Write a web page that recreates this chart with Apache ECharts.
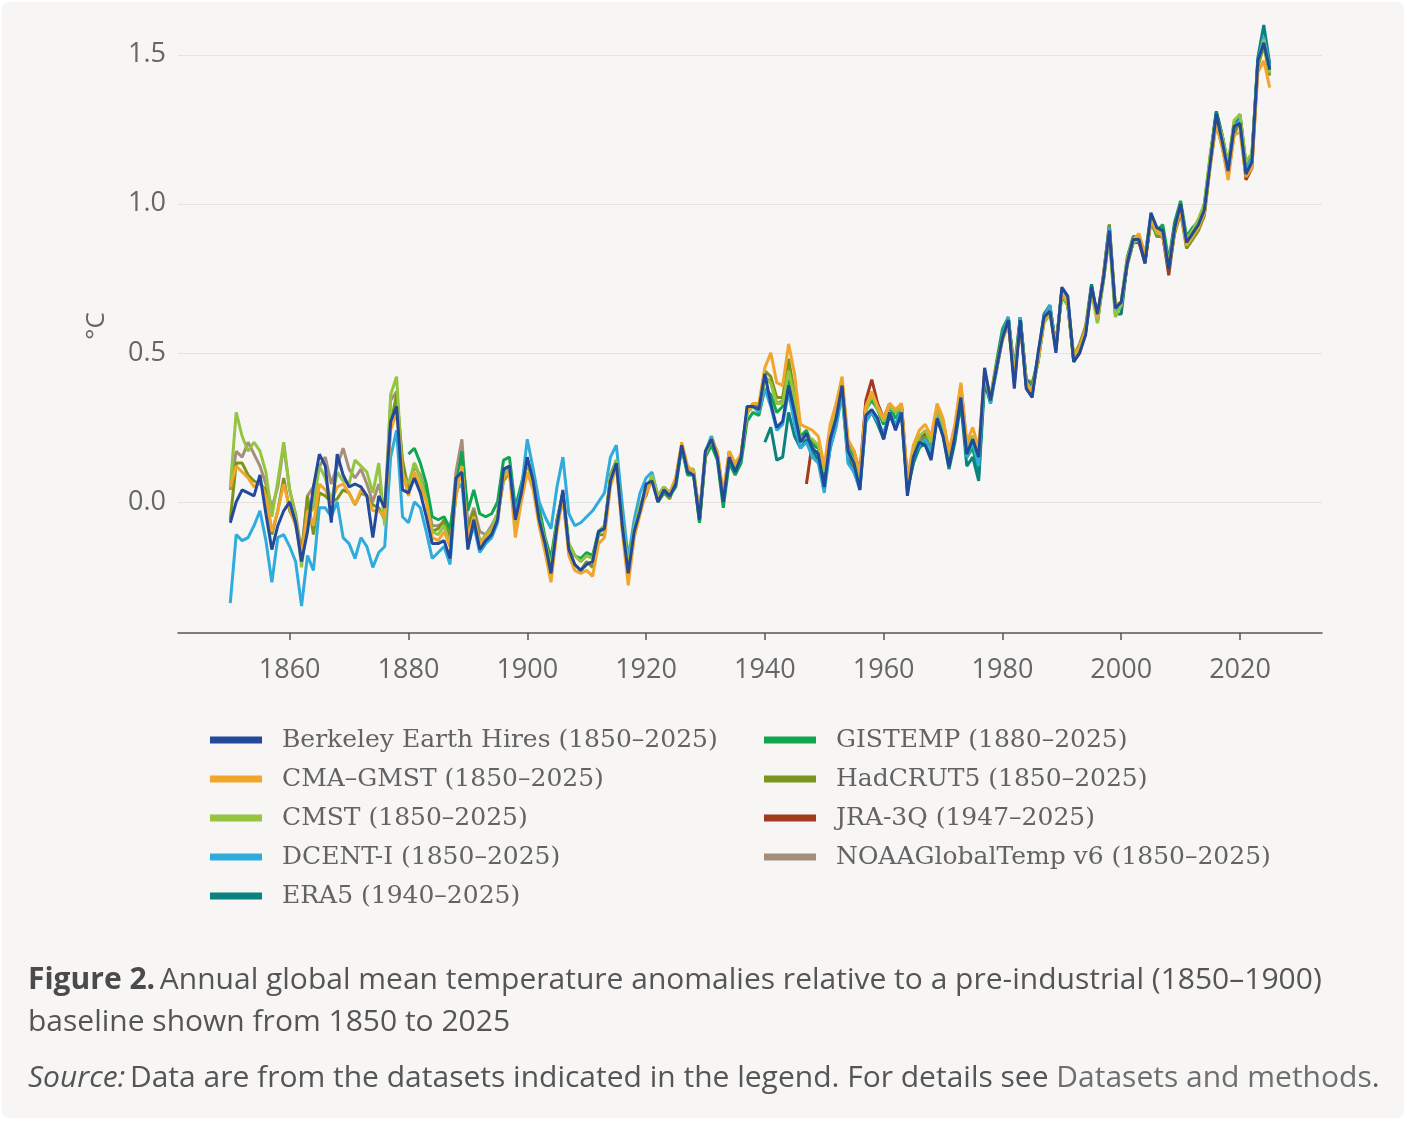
<!DOCTYPE html>
<html>
<head>
<meta charset="utf-8">
<title>Annual global mean temperature anomalies</title>
<script src="https://cdn.jsdelivr.net/npm/echarts@6/dist/echarts.min.js"></script>
<style>
    html, body { margin: 0; padding: 0; background: #fff; }
    #chart {
        position: absolute; left: 3px; top: 3px;
        width: 1400px; height: 1114px;
        background: #f7f6f4; border-radius: 6px;
        box-shadow: 0 0 2px rgba(0, 0, 0, 0.12);
    }
</style>
</head>
<body>
<div id="chart"></div>
<script>
    // anomalies in °C relative to 1850-1900, one value per year from the start year
    var berkeley = [
        -0.07, 0.00, 0.04, 0.03, 0.02, 0.09, -0.04, -0.16, -0.08, -0.03,
        0.00, -0.07, -0.20, -0.10, 0.05, 0.16, 0.12, -0.07, 0.16, 0.09,
        0.05, 0.06, 0.05, 0.02, -0.12, 0.02, -0.02, 0.27, 0.32, 0.04,
        0.03, 0.08, 0.03, -0.05, -0.14, -0.14, -0.13, -0.19, 0.08, 0.10,
        -0.16, -0.06, -0.16, -0.13, -0.11, -0.06, 0.11, 0.12, -0.06, 0.03,
        0.15, 0.07, -0.06, -0.14, -0.24, -0.08, 0.04, -0.16, -0.21, -0.23,
        -0.21, -0.20, -0.10, -0.09, 0.07, 0.13, -0.08, -0.24, -0.10, -0.03,
        0.06, 0.07, 0.00, 0.04, 0.02, 0.06, 0.19, 0.10, 0.09, -0.06,
        0.17, 0.21, 0.15, 0.00, 0.15, 0.10, 0.15, 0.32, 0.32, 0.31,
        0.43, 0.33, 0.25, 0.27, 0.39, 0.30, 0.20, 0.23, 0.18, 0.16,
        0.05, 0.21, 0.28, 0.39, 0.17, 0.13, 0.04, 0.29, 0.31, 0.28,
        0.21, 0.30, 0.24, 0.30, 0.02, 0.15, 0.20, 0.19, 0.14, 0.28,
        0.22, 0.12, 0.22, 0.35, 0.16, 0.21, 0.15, 0.45, 0.34, 0.45,
        0.55, 0.61, 0.38, 0.61, 0.38, 0.35, 0.50, 0.62, 0.64, 0.50,
        0.72, 0.69, 0.47, 0.50, 0.56, 0.72, 0.63, 0.75, 0.91, 0.65,
        0.67, 0.80, 0.88, 0.88, 0.80, 0.97, 0.92, 0.91, 0.78, 0.92,
        1.00, 0.87, 0.90, 0.93, 0.98, 1.14, 1.30, 1.21, 1.11, 1.26,
        1.27, 1.10, 1.14, 1.48, 1.54, 1.45
    ];
    var cmaGmst = [
        0.05, 0.12, 0.10, 0.08, 0.05, 0.07, 0.02, -0.10, -0.03, 0.06,
        -0.02, -0.08, -0.18, -0.03, -0.08, 0.06, 0.04, 0.00, 0.05, 0.06,
        0.03, -0.01, 0.04, 0.02, -0.03, -0.03, -0.05, 0.24, 0.30, 0.10,
        0.02, 0.10, 0.05, 0.00, -0.12, -0.13, -0.10, -0.15, 0.02, 0.12,
        -0.12, -0.05, -0.14, -0.12, -0.10, -0.06, 0.08, 0.10, -0.12, 0.00,
        0.10, 0.04, -0.08, -0.17, -0.27, -0.10, 0.02, -0.18, -0.23, -0.24,
        -0.23, -0.25, -0.14, -0.12, 0.05, 0.12, -0.10, -0.28, -0.12, -0.04,
        0.03, 0.07, 0.01, 0.04, 0.03, 0.08, 0.20, 0.12, 0.10, -0.04,
        0.17, 0.21, 0.17, 0.03, 0.17, 0.13, 0.16, 0.30, 0.33, 0.33,
        0.45, 0.50, 0.40, 0.39, 0.53, 0.43, 0.26, 0.25, 0.24, 0.22,
        0.12, 0.26, 0.33, 0.42, 0.21, 0.17, 0.10, 0.32, 0.37, 0.32,
        0.28, 0.33, 0.31, 0.33, 0.08, 0.19, 0.24, 0.26, 0.22, 0.33,
        0.28, 0.17, 0.26, 0.40, 0.20, 0.25, 0.18, 0.44, 0.35, 0.46,
        0.55, 0.59, 0.42, 0.59, 0.40, 0.37, 0.48, 0.61, 0.64, 0.52,
        0.70, 0.67, 0.49, 0.52, 0.58, 0.71, 0.62, 0.76, 0.90, 0.66,
        0.67, 0.81, 0.88, 0.90, 0.83, 0.94, 0.91, 0.89, 0.79, 0.91,
        0.98, 0.86, 0.89, 0.92, 0.97, 1.13, 1.27, 1.19, 1.08, 1.23,
        1.24, 1.09, 1.12, 1.44, 1.48, 1.39
    ];
    var cmst = [
        0.05, 0.30, 0.22, 0.17, 0.20, 0.17, 0.10, -0.05, 0.07, 0.20,
        0.04, -0.05, -0.22, -0.05, -0.02, 0.12, 0.08, 0.00, 0.10, 0.07,
        0.06, 0.14, 0.12, 0.10, 0.03, 0.13, -0.08, 0.36, 0.42, 0.09,
        0.06, 0.13, 0.08, 0.01, -0.10, -0.11, -0.08, -0.15, 0.02, 0.12,
        -0.13, -0.05, -0.14, -0.11, -0.09, -0.04, 0.09, 0.11, -0.09, 0.02,
        0.14, 0.07, -0.05, -0.13, -0.22, -0.07, 0.03, -0.14, -0.18, -0.20,
        -0.18, -0.19, -0.11, -0.08, 0.08, 0.14, -0.07, -0.21, -0.09, -0.01,
        0.04, 0.09, 0.02, 0.05, 0.03, 0.08, 0.19, 0.11, 0.11, -0.05,
        0.16, 0.21, 0.16, 0.02, 0.16, 0.12, 0.16, 0.30, 0.32, 0.31,
        0.41, 0.40, 0.33, 0.33, 0.44, 0.35, 0.21, 0.22, 0.21, 0.19,
        0.10, 0.23, 0.30, 0.37, 0.17, 0.14, 0.08, 0.30, 0.36, 0.31,
        0.27, 0.32, 0.30, 0.32, 0.06, 0.17, 0.22, 0.24, 0.20, 0.31,
        0.26, 0.15, 0.24, 0.38, 0.18, 0.22, 0.16, 0.43, 0.34, 0.45,
        0.54, 0.60, 0.43, 0.60, 0.40, 0.37, 0.47, 0.60, 0.63, 0.52,
        0.70, 0.66, 0.48, 0.52, 0.57, 0.70, 0.60, 0.74, 0.89, 0.62,
        0.66, 0.80, 0.87, 0.88, 0.82, 0.95, 0.90, 0.90, 0.80, 0.92,
        1.00, 0.88, 0.91, 0.95, 1.00, 1.17, 1.29, 1.23, 1.13, 1.28,
        1.30, 1.14, 1.17, 1.47, 1.55, 1.44
    ];
    var dcent = [
        -0.34, -0.11, -0.13, -0.12, -0.08, -0.03, -0.13, -0.27, -0.12, -0.11,
        -0.15, -0.20, -0.35, -0.18, -0.23, -0.02, -0.02, -0.05, 0.00, -0.12,
        -0.14, -0.19, -0.12, -0.15, -0.22, -0.17, -0.15, 0.15, 0.24, -0.05,
        -0.07, 0.00, -0.02, -0.10, -0.19, -0.17, -0.15, -0.21, 0.04, 0.06,
        -0.15, -0.08, -0.17, -0.14, -0.12, -0.07, 0.10, 0.12, -0.04, 0.04,
        0.21, 0.11, 0.00, -0.05, -0.09, 0.05, 0.15, -0.04, -0.08, -0.07,
        -0.05, -0.03, 0.00, 0.03, 0.15, 0.19, -0.01, -0.19, -0.06, 0.03,
        0.08, 0.10, 0.02, 0.05, 0.03, 0.07, 0.19, 0.10, 0.10, -0.04,
        0.17, 0.22, 0.16, 0.01, 0.16, 0.11, 0.15, 0.30, 0.32, 0.30,
        0.38, 0.32, 0.24, 0.26, 0.37, 0.26, 0.18, 0.20, 0.15, 0.13,
        0.03, 0.18, 0.25, 0.36, 0.13, 0.10, 0.04, 0.27, 0.30, 0.27,
        0.23, 0.30, 0.26, 0.31, 0.05, 0.15, 0.19, 0.21, 0.17, 0.29,
        0.24, 0.13, 0.22, 0.37, 0.15, 0.20, 0.12, 0.43, 0.33, 0.44,
        0.56, 0.62, 0.42, 0.62, 0.40, 0.38, 0.47, 0.62, 0.66, 0.52,
        0.71, 0.68, 0.48, 0.52, 0.57, 0.72, 0.61, 0.76, 0.92, 0.64,
        0.66, 0.81, 0.88, 0.89, 0.82, 0.95, 0.91, 0.90, 0.79, 0.92,
        0.99, 0.87, 0.90, 0.93, 0.99, 1.15, 1.29, 1.21, 1.12, 1.26,
        1.28, 1.12, 1.15, 1.48, 1.56, 1.46
    ];
    var era5 = [ // from 1940
        0.20, 0.25, 0.14, 0.15, 0.30, 0.22, 0.18, 0.21, 0.17, 0.14,
        0.06, 0.18, 0.26, 0.37, 0.14, 0.10, 0.05, 0.27, 0.30, 0.26,
        0.21, 0.29, 0.25, 0.29, 0.04, 0.13, 0.19, 0.19, 0.16, 0.28,
        0.22, 0.11, 0.20, 0.33, 0.12, 0.15, 0.07, 0.40, 0.33, 0.46,
        0.56, 0.62, 0.40, 0.62, 0.41, 0.38, 0.49, 0.63, 0.66, 0.52,
        0.71, 0.67, 0.48, 0.51, 0.57, 0.73, 0.62, 0.75, 0.90, 0.63,
        0.63, 0.80, 0.87, 0.88, 0.81, 0.95, 0.90, 0.90, 0.80, 0.93,
        1.00, 0.87, 0.90, 0.94, 0.99, 1.16, 1.31, 1.23, 1.13, 1.27,
        1.30, 1.13, 1.16, 1.49, 1.60, 1.47
    ];
    var gistemp = [ // from 1880
        0.16, 0.18, 0.13, 0.06, -0.05, -0.06, -0.05, -0.09, 0.05, 0.17,
        -0.03, 0.04, -0.04, -0.05, -0.04, 0.00, 0.14, 0.15, -0.02, 0.06,
        0.14, 0.08, -0.02, -0.12, -0.19, -0.06, 0.03, -0.14, -0.18, -0.19,
        -0.17, -0.18, -0.10, -0.08, 0.07, 0.13, -0.05, -0.20, -0.09, -0.02,
        0.03, 0.08, 0.00, 0.03, 0.02, 0.05, 0.18, 0.09, 0.09, -0.07,
        0.15, 0.19, 0.14, -0.02, 0.13, 0.09, 0.13, 0.27, 0.30, 0.29,
        0.38, 0.36, 0.30, 0.32, 0.41, 0.29, 0.22, 0.24, 0.19, 0.18,
        0.08, 0.22, 0.29, 0.38, 0.18, 0.15, 0.08, 0.31, 0.34, 0.31,
        0.26, 0.32, 0.28, 0.31, 0.04, 0.13, 0.18, 0.20, 0.16, 0.29,
        0.25, 0.13, 0.23, 0.36, 0.15, 0.18, 0.09, 0.42, 0.35, 0.47,
        0.58, 0.62, 0.43, 0.62, 0.39, 0.38, 0.47, 0.61, 0.65, 0.53,
        0.69, 0.66, 0.47, 0.51, 0.58, 0.71, 0.62, 0.74, 0.90, 0.66,
        0.67, 0.82, 0.89, 0.89, 0.83, 0.96, 0.91, 0.93, 0.81, 0.94,
        1.01, 0.89, 0.92, 0.94, 1.00, 1.16, 1.31, 1.23, 1.12, 1.27,
        1.29, 1.13, 1.16, 1.48, 1.56, 1.46
    ];
    var hadcrut5 = [
        -0.06, 0.13, 0.13, 0.09, 0.07, 0.06, 0.04, -0.11, -0.03, 0.08,
        -0.03, -0.07, -0.18, 0.02, -0.11, 0.03, 0.02, 0.00, 0.01, 0.04,
        0.03, -0.01, 0.03, 0.02, -0.01, -0.02, -0.06, 0.26, 0.36, 0.14,
        0.04, 0.13, 0.08, 0.03, -0.10, -0.09, -0.06, -0.11, 0.02, 0.14,
        -0.09, -0.03, -0.13, -0.13, -0.09, -0.05, 0.07, 0.10, -0.08, 0.04,
        0.13, 0.07, -0.05, -0.15, -0.23, -0.07, 0.01, -0.16, -0.21, -0.23,
        -0.20, -0.22, -0.11, -0.11, 0.09, 0.14, -0.08, -0.20, -0.09, -0.01,
        0.02, 0.09, 0.00, 0.03, 0.01, 0.07, 0.19, 0.09, 0.10, -0.07,
        0.16, 0.22, 0.16, 0.01, 0.17, 0.12, 0.16, 0.30, 0.33, 0.32,
        0.44, 0.42, 0.35, 0.35, 0.48, 0.36, 0.21, 0.20, 0.20, 0.19,
        0.10, 0.23, 0.30, 0.37, 0.15, 0.12, 0.06, 0.31, 0.36, 0.31,
        0.26, 0.33, 0.30, 0.32, 0.06, 0.15, 0.20, 0.22, 0.19, 0.31,
        0.25, 0.14, 0.24, 0.38, 0.17, 0.20, 0.13, 0.42, 0.34, 0.45,
        0.55, 0.61, 0.45, 0.62, 0.41, 0.40, 0.47, 0.61, 0.65, 0.52,
        0.70, 0.66, 0.49, 0.53, 0.59, 0.73, 0.60, 0.76, 0.93, 0.66,
        0.66, 0.79, 0.87, 0.88, 0.81, 0.94, 0.89, 0.89, 0.78, 0.90,
        0.97, 0.85, 0.88, 0.91, 0.96, 1.13, 1.27, 1.19, 1.10, 1.23,
        1.28, 1.12, 1.16, 1.46, 1.53, 1.43
    ];
    var jra3q = [ // from 1947
        0.06, 0.20, 0.18,
        0.10, 0.24, 0.30, 0.40, 0.20, 0.17, 0.10, 0.34, 0.41, 0.33,
        0.28, 0.33, 0.30, 0.33, 0.07, 0.17, 0.22, 0.23, 0.20, 0.32,
        0.27, 0.16, 0.25, 0.39, 0.19, 0.22, 0.15, 0.43, 0.35, 0.44,
        0.55, 0.60, 0.41, 0.61, 0.39, 0.36, 0.48, 0.62, 0.64, 0.51,
        0.71, 0.67, 0.47, 0.50, 0.57, 0.72, 0.62, 0.76, 0.93, 0.64,
        0.65, 0.80, 0.87, 0.87, 0.80, 0.95, 0.90, 0.89, 0.76, 0.91,
        0.99, 0.86, 0.89, 0.92, 0.97, 1.14, 1.29, 1.20, 1.09, 1.25,
        1.27, 1.08, 1.12, 1.46, 1.55, 1.45
    ];
    var noaa = [
        0.04, 0.17, 0.15, 0.20, 0.16, 0.12, 0.06, -0.02, 0.05, 0.19,
        0.04, -0.04, -0.17, 0.02, 0.05, 0.12, 0.15, 0.06, 0.12, 0.18,
        0.11, 0.08, 0.11, 0.06, 0.00, 0.06, -0.03, 0.34, 0.37, 0.12,
        0.05, 0.12, 0.09, 0.02, -0.08, -0.08, -0.07, -0.12, 0.10, 0.21,
        -0.08, -0.02, -0.10, -0.11, -0.08, -0.04, 0.10, 0.12, -0.07, 0.04,
        0.13, 0.08, -0.04, -0.13, -0.21, -0.06, 0.03, -0.15, -0.18, -0.20,
        -0.18, -0.19, -0.10, -0.09, 0.08, 0.13, -0.06, -0.21, -0.09, -0.02,
        0.04, 0.08, 0.01, 0.04, 0.02, 0.07, 0.19, 0.10, 0.10, -0.05,
        0.16, 0.21, 0.16, 0.02, 0.16, 0.12, 0.15, 0.30, 0.32, 0.31,
        0.42, 0.40, 0.33, 0.34, 0.45, 0.34, 0.21, 0.22, 0.20, 0.18,
        0.09, 0.22, 0.30, 0.38, 0.17, 0.14, 0.07, 0.31, 0.37, 0.31,
        0.27, 0.32, 0.30, 0.32, 0.06, 0.16, 0.21, 0.23, 0.20, 0.31,
        0.26, 0.15, 0.24, 0.38, 0.18, 0.21, 0.14, 0.42, 0.35, 0.45,
        0.55, 0.60, 0.43, 0.60, 0.40, 0.37, 0.48, 0.61, 0.64, 0.52,
        0.70, 0.66, 0.48, 0.52, 0.58, 0.71, 0.61, 0.75, 0.91, 0.64,
        0.65, 0.80, 0.87, 0.87, 0.81, 0.94, 0.90, 0.89, 0.78, 0.91,
        0.98, 0.86, 0.89, 0.93, 0.98, 1.14, 1.28, 1.20, 1.10, 1.25,
        1.27, 1.11, 1.14, 1.47, 1.54, 1.44
    ];

    var datasets = [
        {name: 'Berkeley Earth Hires (1850–2025)', start: 1850, values: berkeley, color: '#22499a'},
        {name: 'CMA–GMST (1850–2025)', start: 1850, values: cmaGmst, color: '#f2a52b'},
        {name: 'CMST (1850–2025)', start: 1850, values: cmst, color: '#94c440'},
        {name: 'DCENT-I (1850–2025)', start: 1850, values: dcent, color: '#2fabdc'},
        {name: 'ERA5 (1940–2025)', start: 1940, values: era5, color: '#0b827d'},
        {name: 'GISTEMP (1880–2025)', start: 1880, values: gistemp, color: '#0fa64f'},
        {name: 'HadCRUT5 (1850–2025)', start: 1850, values: hadcrut5, color: '#7b951c'},
        {name: 'JRA-3Q (1947–2025)', start: 1947, values: jra3q, color: '#a33a1e'},
        {name: 'NOAAGlobalTemp v6 (1850–2025)', start: 1850, values: noaa, color: '#a58e7c'}
    ];
    var xTicks = [1860, 1880, 1900, 1920, 1940, 1960, 1980, 2000, 2020];
    var yTicks = [0, 0.5, 1, 1.5];

    var chart = echarts.init(document.getElementById('chart'));

    // draw in reverse so Berkeley Earth ends up on top
    var series = datasets.slice().reverse().map(function (d) {
        return {
            name: d.name,
            type: 'line',
            showSymbol: false,
            symbol: 'none',
            color: d.color,
            lineStyle: {width: 3, color: d.color},
            data: d.values.map(function (v, i) {
                return [d.start + i, v];
            })
        };
    });

    var legendText = {
        fontFamily: 'DejaVu Serif',
        fontSize: 25,
        color: '#636363',
        lineHeight: 30,
        padding: [0, 0, 0, 15]
    };

    var capFont = 'Open Sans';
    var capSize = 30;

    var option = {
        animation: false,
        textStyle: {fontFamily: 'Open Sans'},
        grid: {left: 175, top: 16, width: 1144, height: 614},
        xAxis: {
            type: 'value',
            min: 1841.2,
            max: 2033.8,
            axisLine: {onZero: false, lineStyle: {color: '#555', width: 1.5}},
            axisTick: {show: true, length: 7, customValues: xTicks, lineStyle: {color: '#555', width: 1.5}},
            axisLabel: {
                customValues: xTicks, fontSize: 27, color: '#666', margin: 24,
                formatter: function (v) { return String(v); }
            },
            splitLine: {show: false}
        },
        yAxis: {
            type: 'value',
            min: -0.44,
            max: 1.62,
            name: '°C',
            nameLocation: 'middle',
            nameRotate: 90,
            nameGap: 68,
            nameTextStyle: {fontSize: 26, color: '#666'},
            axisLine: {show: false},
            axisTick: {show: false, customValues: yTicks},
            axisLabel: {
                customValues: yTicks, fontSize: 27, color: '#666', margin: 12,
                formatter: function (v) { return v.toFixed(1); }
            },
            splitLine: {show: true, lineStyle: {color: '#e5e3e0', width: 1.2}}
        },
        legend: [
            {
                data: datasets.slice(0, 5).map(function (d) { return d.name; }),
                orient: 'vertical', left: 202, top: 717,
                icon: 'rect', itemWidth: 52, itemHeight: 7, itemGap: 9,
                selectedMode: false, textStyle: legendText
            },
            {
                data: datasets.slice(5).map(function (d) { return d.name; }),
                orient: 'vertical', left: 756, top: 717,
                icon: 'rect', itemWidth: 52, itemHeight: 7, itemGap: 9,
                selectedMode: false, textStyle: legendText
            }
        ],
        title: [
            {
                left: 20, top: 951,
                text: '{b|Figure 2.} {t|Annual global mean temperature anomalies relative to a pre-industrial (1850–1900)}\n{t|baseline shown from 1850 to 2025}',
                textStyle: {
                    fontWeight: 'normal',
                    rich: {
                        b: {fontFamily: capFont, fontSize: capSize, fontWeight: 'bold', color: '#4a4a4a', lineHeight: 42},
                        t: {fontFamily: capFont, fontSize: capSize, fontWeight: 'normal', color: '#555', lineHeight: 42}
                    }
                }
            },
            {
                left: 20, top: 1049,
                text: '{i|Source:} {t|Data are from the datasets indicated in the legend. For details see }{a|Datasets and methods}{t|.}',
                textStyle: {
                    fontWeight: 'normal',
                    rich: {
                        i: {fontFamily: capFont, fontSize: capSize, fontStyle: 'italic', fontWeight: 'normal', color: '#555', lineHeight: 42},
                        t: {fontFamily: capFont, fontSize: capSize, fontWeight: 'normal', color: '#555', lineHeight: 42},
                        a: {fontFamily: capFont, fontSize: capSize, fontWeight: 'normal', color: '#6e6e6e', lineHeight: 42}
                    }
                }
            }
        ],
        series: series
    };

    chart.setOption(option);
</script>
</body>
</html>
